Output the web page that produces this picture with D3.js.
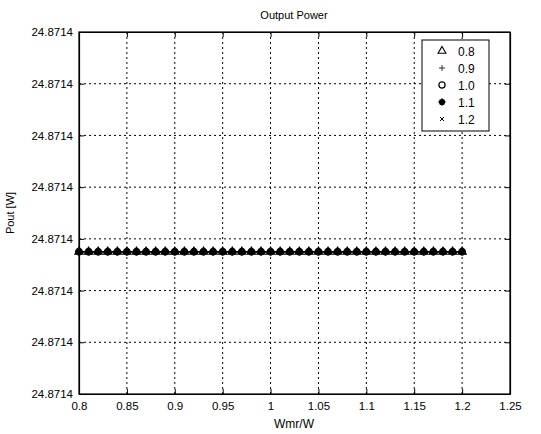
<!DOCTYPE html>
<html><head><meta charset="utf-8">
<script src="https://cdn.jsdelivr.net/npm/d3@7"></script>
<style>body{margin:0;background:#fff}svg{font-family:"Liberation Sans",Arial,sans-serif}</style>
</head><body><div id="c"></div>
<script>
// Data
const xTicks = [0.8,0.85,0.9,0.95,1,1.05,1.1,1.15,1.2,1.25];
const yTicks = [24.871396,24.871397,24.871398,24.871399,24.871400,24.871401,24.871402,24.871403];
const seriesNames = ["0.8","0.9","1.0","1.1","1.2"];
const xValues = [0.80,0.81,0.82,0.83,0.84,0.85,0.86,0.87,0.88,0.89,0.90,0.91,0.92,0.93,0.94,0.95,0.96,0.97,0.98,0.99,1.00,1.01,1.02,1.03,1.04,1.05,1.06,1.07,1.08,1.09,1.10,1.11,1.12,1.13,1.14,1.15,1.16,1.17,1.18,1.19,1.20];
const poutValue = 24.87139875; // identical for all series

const W=541,H=434, m={l:79,r:31,t:32,b:40};
const svg=d3.select("#c").append("svg").attr("width",W).attr("height",H);
const x=d3.scaleLinear().domain([0.8,1.25]).range([m.l,W-m.r]);
const y=d3.scaleLinear().domain([yTicks[0],yTicks[yTicks.length-1]]).range([H-m.b,m.t]);
const fmt=d3.format(".4f");

// grid
const g=svg.append("g");
g.selectAll(".gx").data(xTicks.slice(1,-1)).join("line")
 .attr("x1",d=>x(d)).attr("x2",d=>x(d)).attr("y1",m.t).attr("y2",H-m.b)
 .attr("stroke","#000").attr("stroke-dasharray","2,3").attr("stroke-width",1);
g.selectAll(".gy").data(yTicks.slice(1,-1)).join("line")
 .attr("y1",d=>y(d)).attr("y2",d=>y(d)).attr("x1",m.l).attr("x2",W-m.r)
 .attr("stroke","#000").attr("stroke-dasharray","2,3").attr("stroke-width",1);

// axes
svg.append("g").attr("transform",`translate(0,${H-m.b})`)
 .call(d3.axisBottom(x).tickValues(xTicks).tickFormat(d=>String(d)).tickSizeInner(-5).tickSizeOuter(0).tickPadding(8));
svg.append("g").attr("transform",`translate(${m.l},0)`)
 .call(d3.axisLeft(y).tickValues(yTicks).tickFormat(fmt).tickSizeInner(-5).tickSizeOuter(0).tickPadding(6));
svg.append("g").attr("transform",`translate(0,${m.t})`)
 .call(d3.axisTop(x).tickValues(xTicks).tickFormat("").tickSizeInner(-5).tickSizeOuter(0));
svg.append("g").attr("transform",`translate(${W-m.r},0)`)
 .call(d3.axisRight(y).tickValues(yTicks).tickFormat("").tickSizeInner(-5).tickSizeOuter(0));
svg.selectAll(".domain").attr("stroke","#000").attr("stroke-width",1.2);
svg.selectAll(".tick line").attr("stroke","#000");
svg.selectAll(".tick text").attr("font-size",11.5).attr("fill","#000").attr("font-family","'Liberation Sans',Arial,sans-serif");
svg.append("rect").attr("x",m.l).attr("y",m.t).attr("width",W-m.r-m.l).attr("height",H-m.b-m.t)
 .attr("fill","none").attr("stroke","#000").attr("stroke-width",1.2);

// markers
function marker(sel,i,k){
  if(i===0){ sel.append("path").attr("d",d3.symbol(d3.symbolTriangle,30*k)()).attr("fill","none").attr("stroke","#000").attr("stroke-width",1.1);}
  else if(i===1){ sel.append("path").attr("d","M-3,0H3M0,-3V3").attr("fill","none").attr("stroke","#000").attr("stroke-width",0.8);}
  else if(i===2){ sel.append("circle").attr("r",3.3*k).attr("fill","none").attr("stroke","#000").attr("stroke-width",1.3);}
  else if(i===3){ sel.append("path").attr("d","M-3.4,0H3.4M0,-3.4V3.4M-2.4,-2.4L2.4,2.4M-2.4,2.4L2.4,-2.4").attr("fill","none").attr("stroke","#000").attr("stroke-width",1.8);
                  sel.append("circle").attr("r",2).attr("fill","#000");}
  else { sel.append("path").attr("d","M-2,-2L2,2M-2,2L2,-2").attr("fill","none").attr("stroke","#000").attr("stroke-width",1);}
}
const lines=svg.append("g");
seriesNames.forEach((n,i)=>{
  lines.append("path").datum(xValues).attr("fill","none").attr("stroke","#000").attr("stroke-width",1)
   .attr("d",d3.line().x(d=>x(d)).y(()=>y(poutValue)));
  lines.selectAll(".m"+i).data(xValues).join("g").attr("transform",d=>`translate(${x(d)},${y(poutValue)})`)
   .each(function(){marker(d3.select(this),i,1);});
});

// legend
const lg=svg.append("g");
lg.append("rect").attr("x",422).attr("y",40).attr("width",67).attr("height",91).attr("fill","#fff").attr("stroke","#000").attr("stroke-width",1);
seriesNames.forEach((n,i)=>{
  const yy=51+i*17;
  const gg=lg.append("g").attr("transform",`translate(442,${yy})`);
  marker(gg,i,i===0?0.9:0.95);
  lg.append("text").attr("x",458).attr("y",yy+4.5).attr("font-size",12).text(n);
});

// titles
svg.append("text").attr("x",294).attr("y",19).attr("text-anchor","middle").attr("font-size",11).text("Output Power");
svg.append("text").attr("x",294).attr("y",428).attr("text-anchor","middle").attr("font-size",12).text("Wmr/W");
svg.append("text").attr("transform","translate(14,213) rotate(-90)").attr("text-anchor","middle").attr("font-size",11).text("Pout [W]");
</script></body></html>
